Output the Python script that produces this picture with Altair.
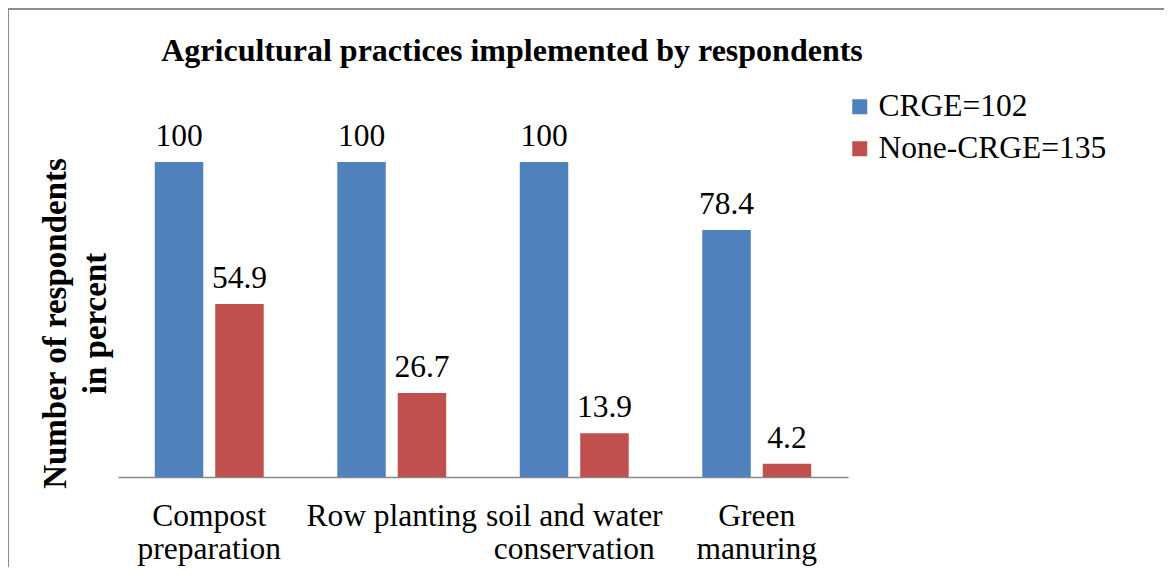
import altair as alt
import pandas as pd

categories = ["Compost|preparation", "Row planting", "soil and water|conservation", "Green|manuring"]
series = ["CRGE=102", "None-CRGE=135"]
crge = [100, 100, 100, 78.4]
none_crge = [54.9, 26.7, 13.9, 4.2]
colors = ["#4F81BD", "#C0504D"]

rows = []
for c, a, b in zip(categories, crge, none_crge):
    rows.append({"cat": c, "series": series[0], "value": a})
    rows.append({"cat": c, "series": series[1], "value": b})
df = pd.DataFrame(rows)

FONT = "'Liberation Serif', 'Times New Roman', Times, serif"
FS = 31.5

x_enc = alt.X("cat:N", sort=categories,
              scale=alt.Scale(paddingInner=0.403, paddingOuter=0.2015),
              axis=alt.Axis(title=None, labelAngle=0, ticks=False, domainColor="#898989",
                            domainWidth=1.5, labelFont=FONT, labelFontSize=FS,
                            labelColor="black", labelPadding=23, labelLineHeight=33,
                            labelLimit=0,
                            labelExpr="split(datum.label, '|')"))
xo_enc = alt.XOffset("series:N", sort=series, scale=alt.Scale(paddingInner=0.198, paddingOuter=0))
y_enc = alt.Y("value:Q", scale=alt.Scale(domain=[0, 120], nice=False, zero=True),
              axis=alt.Axis(title=["Number of respondents", "in percent"], labels=False,
                            ticks=False, domain=False, grid=False, titleFont=FONT,
                            titleFontSize=33, titleFontWeight="bold", titleColor="black",
                            titleX=-63, titleY=224, titleAngle=-90, titleAlign="center",
                            titleBaseline="middle", titleLineHeight=40, titleLimit=0))

base = alt.Chart(df)

bars = base.mark_bar().encode(
    x=x_enc, xOffset=xo_enc, y=y_enc,
    color=alt.Color("series:N", sort=series,
                    scale=alt.Scale(domain=series, range=colors),
                    legend=alt.Legend(title=None, orient="none", legendX=726, legendY=-8,
                                      symbolType="square", symbolSize=225,
                                      symbolStrokeWidth=0, labelFont=FONT,
                                      labelFontSize=FS, labelColor="black",
                                      labelOffset=3, rowPadding=9, labelLimit=0)),
)

labels = base.mark_text(font=FONT, fontSize=FS, color="black", dy=-16,
                        baseline="alphabetic").encode(
    x=x_enc, xOffset=xo_enc, y=y_enc,
    text=alt.Text("value:Q", format=".1~f"),
)

frame = alt.Chart(pd.DataFrame({"a": [0]})).mark_rect(
    fill=None, stroke="#8c8c8c", strokeWidth=2).encode(
    x=alt.value(-110), x2=alt.value(1200), y=alt.value(-90), y2=alt.value(700))

chart = alt.layer(frame, bars, labels).properties(
    width=730, height=378,
    title=alt.TitleParams(text="Agricultural practices implemented by respondents",
                          font=FONT, fontSize=32, fontWeight="bold", color="black",
                          anchor="middle", dx=29, offset=0, baseline="alphabetic",
                          dy=85, limit=0),
    autosize=alt.AutoSizeParams(type="none"),
    padding={"left": 110, "top": 91, "right": 316, "bottom": 90},
).configure_view(stroke=None)

chart.save("out.html", embed_options={"renderer": "svg", "actions": False})
